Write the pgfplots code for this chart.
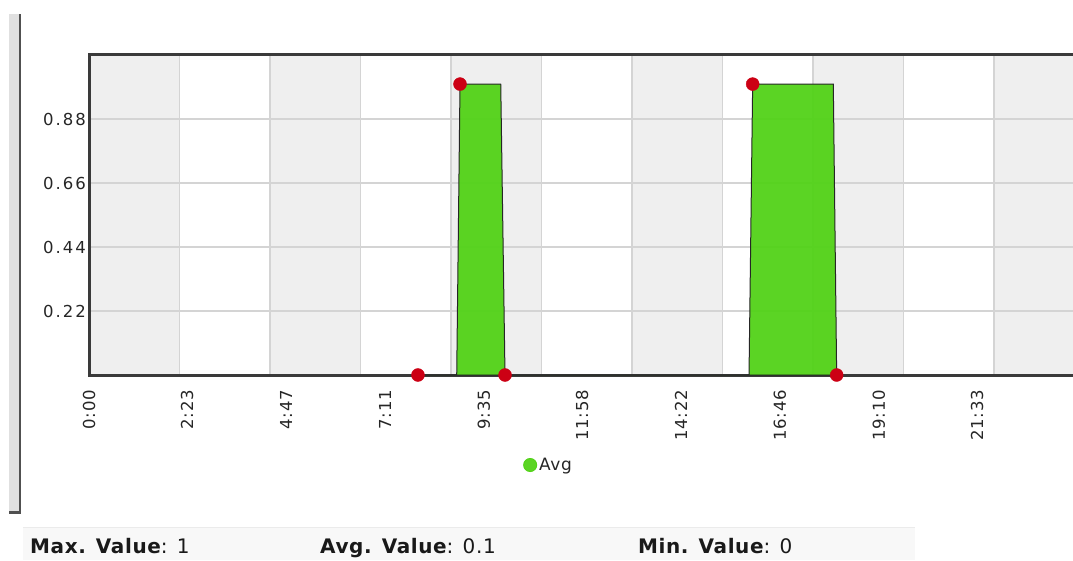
\documentclass[border=0pt]{standalone}
\usepackage{pgfplots}
\usepackage{pgfplotstable}
\pgfplotsset{compat=1.18}
\usepackage{fontspec}
\setmainfont{DejaVu Sans}
\newfontfamily\xtickfont[LetterSpace=4]{DejaVu Sans}
\newfontfamily\ytickfont[LetterSpace=12]{DejaVu Sans}
\newfontfamily\statfont[LetterSpace=3]{DejaVu Sans}
\definecolor{bandgray}{HTML}{EFEFEF}
\definecolor{gridgray}{HTML}{D4D4D4}
\definecolor{axisdark}{HTML}{3A3A3A}
\definecolor{avggreen}{HTML}{52D218}
\definecolor{mkred}{HTML}{CC0014}
\definecolor{txt}{HTML}{262626}
\definecolor{statbg}{HTML}{F8F8F8}
\definecolor{barlight}{HTML}{E0E0E0}
\definecolor{bardark}{HTML}{505050}

\pgfplotstableread{
t v
479 0
535.4 0
540.2 1
599.5 1
605.7 0
961 0
966.3 1
1083.7 1
1088.6 0
}\avgdata
\pgfplotstableread{
t v
479 0
540.2 1
605.7 0
966.3 1
1088.6 0
}\markdata

\begin{document}
\begin{tikzpicture}
% left frame
\fill[barlight] (9pt,47pt) rectangle (19pt,546pt);
\draw[bardark, line width=2.5pt] (9pt,47.5pt) -- (20pt,47.5pt) -- (20pt,546pt);
% stats strip
\fill[statbg] (23pt,0pt) rectangle (915pt,33pt);
\draw[black!8, line width=1pt] (23pt,33pt) -- (915pt,33pt);
\node[anchor=base west, inner sep=0pt, font=\statfont\fontsize{20}{23}\selectfont, text=black!90] at (30pt,7pt) {\bfseries Max. Value\mdseries: 1};
\node[anchor=base west, inner sep=0pt, font=\statfont\fontsize{20}{23}\selectfont, text=black!90] at (320pt,7pt) {\bfseries Avg. Value\mdseries: 0.1};
\node[anchor=base west, inner sep=0pt, font=\statfont\fontsize{20}{23}\selectfont, text=black!90] at (638pt,7pt) {\bfseries Min. Value\mdseries: 0};
\begin{axis}[
  set layers,
  at={(89pt,185pt)}, anchor=south west,
  scale only axis, width=989pt, height=320pt,
  xmin=0, xmax=1440, ymin=0, ymax=1.1,
  axis line style={axisdark, line width=3pt},
  xtick={0,143,287,431,575,718,862,1006,1150,1293},
  xticklabels={0:00,2:23,4:47,7:11,9:35,11:58,14:22,16:46,19:10,21:33},
  ytick={0.22,0.44,0.66,0.88},
  yticklabels={0.22,0.44,0.66,0.88},
  major tick length=0pt,
  ymajorgrids,
  grid style={gridgray, line width=1.5pt},
  extra x ticks={131.77,263.54,395.31,527.08,658.85,790.62,922.39,1054.16,1185.93,1317.7},
  extra x tick labels={},
  extra x tick style={xmajorgrids=true, major tick length=0pt},
  xticklabel style={font=\xtickfont\fontsize{16.5}{19}\selectfont, text=txt, rotate=90, anchor=east, inner sep=0pt},
  xticklabel shift=15pt,
  yticklabel style={font=\ytickfont\fontsize{16.5}{19}\selectfont, text=txt, anchor=east, inner sep=0pt},
  yticklabel shift=3pt,
  clip mode=individual,
  legend style={at={(axis description cs:0.4388,-0.2813)}, anchor=west,
    draw=none, fill=none, inner sep=0pt,
    font=\xtickfont\fontsize{17}{20}\selectfont, text=txt,
    /tikz/every even column/.append style={column sep=6pt}},
  legend cell align=left,
]
\addplot[fill=bandgray, draw=none, on layer=axis background, forget plot] coordinates {(0,1.1)(131.77,1.1)} \closedcycle;
\addplot[fill=bandgray, draw=none, on layer=axis background, forget plot] coordinates {(263.54,1.1)(395.31,1.1)} \closedcycle;
\addplot[fill=bandgray, draw=none, on layer=axis background, forget plot] coordinates {(527.08,1.1)(658.85,1.1)} \closedcycle;
\addplot[fill=bandgray, draw=none, on layer=axis background, forget plot] coordinates {(790.62,1.1)(922.39,1.1)} \closedcycle;
\addplot[fill=bandgray, draw=none, on layer=axis background, forget plot] coordinates {(1054.16,1.1)(1185.93,1.1)} \closedcycle;
\addplot[fill=bandgray, draw=none, on layer=axis background, forget plot] coordinates {(1317.7,1.1)(1449.5,1.1)} \closedcycle;
\addplot[fill=avggreen, fill opacity=0.95, draw=black!85, line width=1pt,
  legend image code/.code={\fill[avggreen] (6pt,0pt) circle (6.5pt);}]
  table {\avgdata} \closedcycle;
\addlegendentry{Avg}
\addplot[only marks, mark=*, mark size=6.5pt, mark options={fill=mkred, draw=mkred}, forget plot]
  table {\markdata};
\end{axis}
\pgfresetboundingbox
\useasboundingbox (0pt,0pt) rectangle (1073pt,560pt);
\end{tikzpicture}
\end{document}
